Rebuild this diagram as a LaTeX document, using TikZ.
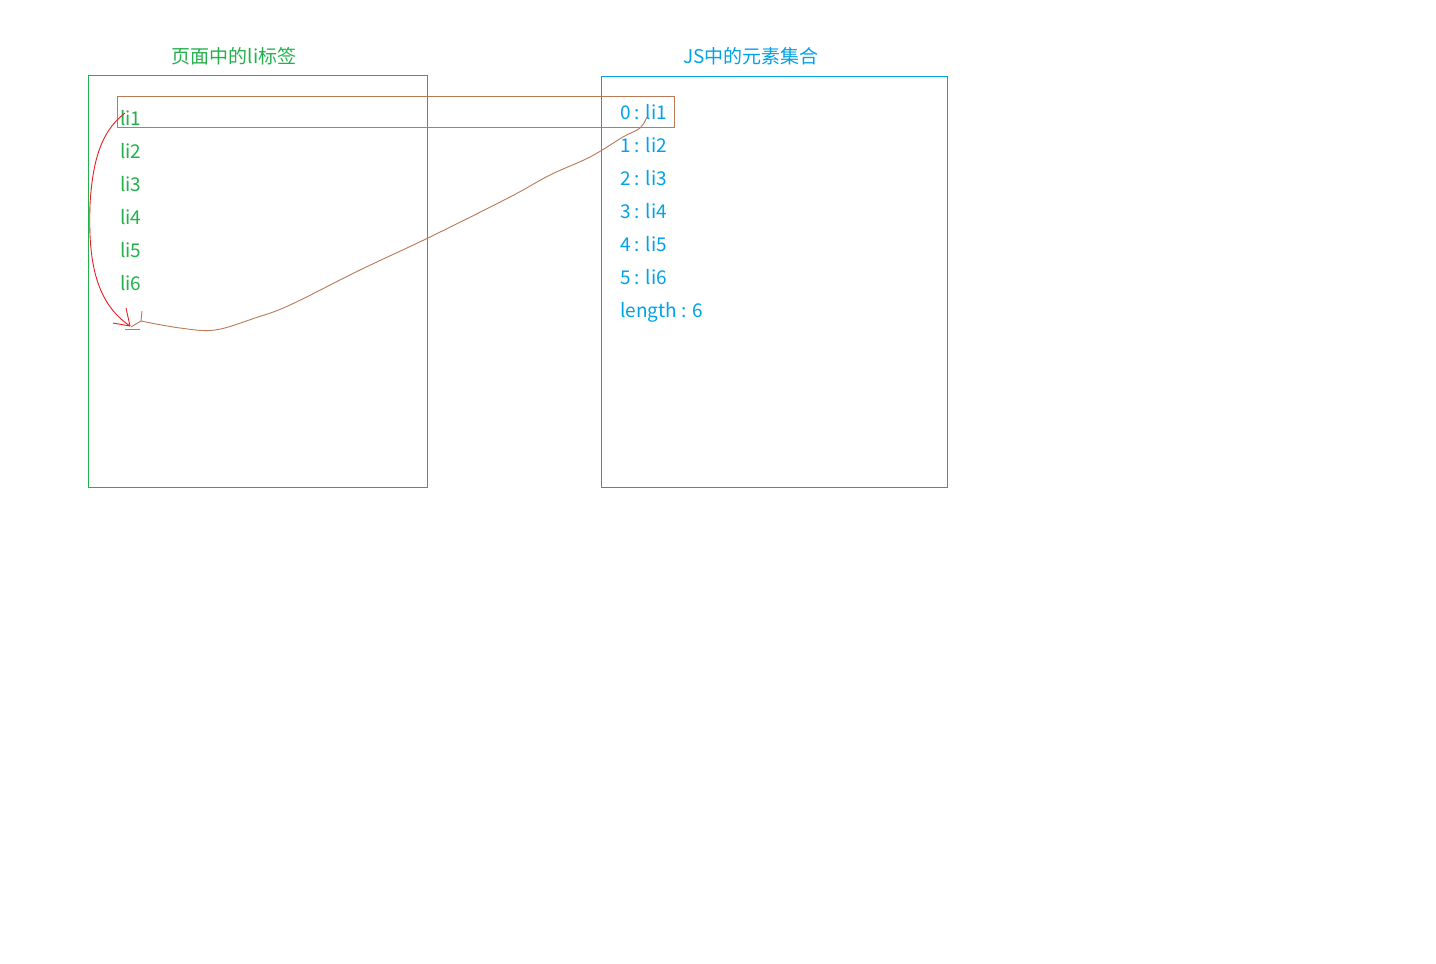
\documentclass[tikz,border=0pt]{standalone}
\usepackage{fontspec}
\setmainfont{Noto Sans CJK SC}
\begin{document}
\begin{tikzpicture}[x=1pt,y=-1pt,
  pagegreen/.style={draw=cGreen,line width=0.9pt},
  jsblue/.style={draw=cBlue,line width=0.9pt},
  greentext/.style={text=cGreen,font=\fontsize{19}{22}\selectfont,inner sep=0pt,anchor=base west},
  bluetext/.style={text=cBlue,font=\fontsize{19}{22}\selectfont,inner sep=0pt,anchor=base west},
  redstroke/.style={draw=cRed,line width=0.9pt},
  brownstroke/.style={draw=cBrown,line width=0.9pt}]
\definecolor{cGreen}{HTML}{22B14C}
\definecolor{cBlue}{HTML}{00A2E8}
\definecolor{cRed}{HTML}{ED1C24}
\definecolor{cBrown}{HTML}{B97A57}
\useasboundingbox[fill=white] (0,0) rectangle (1436,964);

% the two containers
\draw[pagegreen] (88,75) rectangle (427,487);
\draw[jsblue] (601,76) rectangle (947,487);

% titles
\node[text=cGreen,font=\fontsize{19}{22}\selectfont,inner sep=0pt] (ttlL) at (234,56) {页面中的li标签};
\node[text=cBlue,font=\fontsize{19}{22}\selectfont,inner sep=0pt] (ttlR) at (751,56) {JS中的元素集合};

% list items on the page
\node[greentext] (li1) at (120,125) {li1};
\node[greentext] (li2) at (120,158) {li2};
\node[greentext] (li3) at (120,191) {li3};
\node[greentext] (li4) at (120,224) {li4};
\node[greentext] (li5) at (120,257) {li5};
\node[greentext] (li6) at (120,290) {li6};

% collection entries
\node[bluetext] (e0) at (620,119) {0 : li1};
\node[bluetext] (e1) at (620,152) {1 : li2};
\node[bluetext] (e2) at (620,185) {2 : li3};
\node[bluetext] (e3) at (620,218) {3 : li4};
\node[bluetext] (e4) at (620,251) {4 : li5};
\node[bluetext] (e5) at (620,284) {5 : li6};
\node[bluetext] (len) at (620,317) {length : 6};

% highlight band across the first row
\draw[brownstroke] (117,96) rectangle (674,127);

% hand-drawn arrows
\coordinate (rstart) at (125,113);
\coordinate (rtip) at (130,326);
\coordinate (bstart) at (647,117);
\coordinate (btip) at (141,321);

\draw[redstroke] (rstart) .. controls (106,128) and (93,150) .. (90,205)
  .. controls (88,262) and (96,303) .. (rtip);
\draw[redstroke] (rtip) -- (126,308);
\draw[redstroke] (rtip) -- (113,323);

\draw[brownstroke] plot[smooth,tension=0.6] coordinates {(bstart) (640,128) (623,137) (590,157) (550,175) (510,197) (430,237) (360,270) (290,305) (255,318) (215,330) (180,328) (btip)};
\draw[brownstroke] (btip) -- (142,311);
\draw[brownstroke] (btip) -- (131,327);
\draw[brownstroke] (125,329) -- (140,329);
\end{tikzpicture}
\end{document}
